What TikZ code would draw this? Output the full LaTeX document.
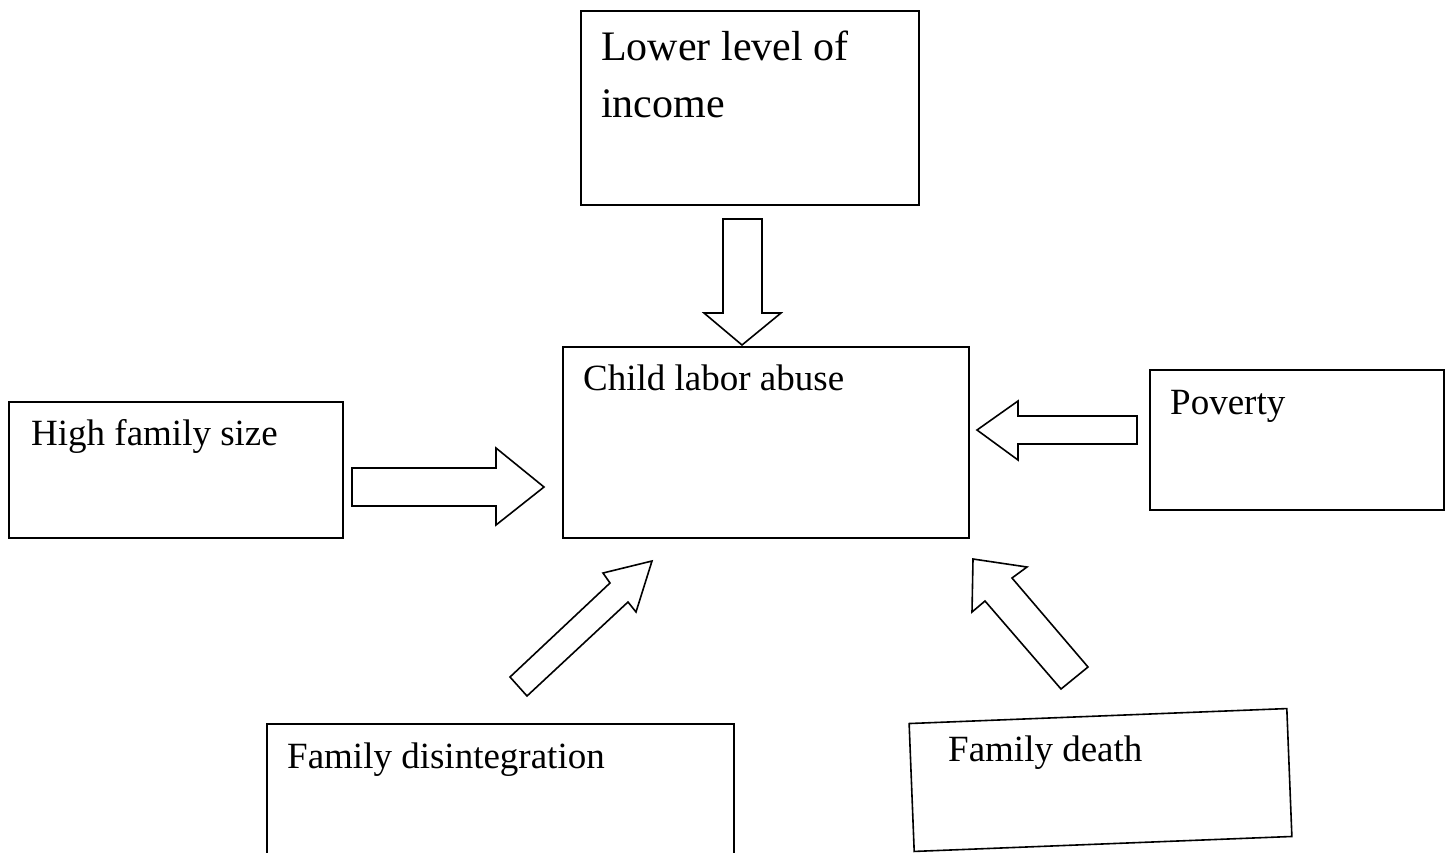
\documentclass[tikz,border=0pt]{standalone}
\usepackage{fontspec}
\setmainfont{Liberation Serif}
\begin{document}
\begin{tikzpicture}[x=1pt,y=-1pt,
  box/.style={draw, line width=1.6pt, rectangle, inner sep=0pt, anchor=north west},
  lbl/.style={anchor=base west, inner sep=0pt, font=\fontsize{37}{44}\selectfont},
  biglbl/.style={anchor=base west, inner sep=0pt, font=\fontsize{42}{50}\selectfont},
  blockarrow/.style={draw, line width=1.6pt, line join=miter, fill=white}]
\useasboundingbox (0,0) rectangle (1453,852);
\clip (0,0) rectangle (1453,852);
% boxes
\node[box, minimum width=338pt, minimum height=194pt] (income) at (580,10) {};
\node[box, minimum width=406pt, minimum height=191pt] (abuse) at (562,346) {};
\node[box, minimum width=334pt, minimum height=136pt] (size) at (8,401) {};
\node[box, minimum width=294pt, minimum height=140pt] (poverty) at (1149,369) {};
\node[box, minimum width=467pt, minimum height=160pt] (disint) at (266,723) {};
\node[draw, line width=1.6pt, rotate=2.27, minimum width=378pt, minimum height=128pt, inner sep=0pt] (death) at (1100.5,780) {};
% texts
\node[biglbl] (tincome1) at (601,60) {Lower level of};
\node[biglbl] (tincome2) at (601,117) {income};
\node[lbl] (tabuse) at (583,390) {Child labor abuse};
\node[lbl] (tsize) at (31,445) {High family size};
\node[lbl] (tpoverty) at (1170,414) {Poverty};
\node[lbl] (tdisint) at (287,768) {Family disintegration};
\node[lbl] (tdeath) at (948,761) {Family death};
% block arrows
\draw[blockarrow] (723,219) -- (762,219) -- (762,313) -- (781,313) -- (742,345) -- (704,313) -- (723,313) -- cycle;
\draw[blockarrow] (977,430) -- (1018,401) -- (1018,416) -- (1137,416) -- (1137,444) -- (1018,444) -- (1018,460) -- cycle;
\draw[blockarrow] (352,468) -- (496,468) -- (496,448) -- (544,487) -- (496,525) -- (496,506) -- (352,506) -- cycle;
\draw[blockarrow] (510,677) -- (610,583) -- (603,573) -- (652,561) -- (636,612) -- (628,602) -- (527,696) -- cycle;
\draw[blockarrow] (973,559) -- (1027,567) -- (1012,578) -- (1088,667) -- (1061,689) -- (985,601) -- (972,612) -- cycle;
\end{tikzpicture}
\end{document}
